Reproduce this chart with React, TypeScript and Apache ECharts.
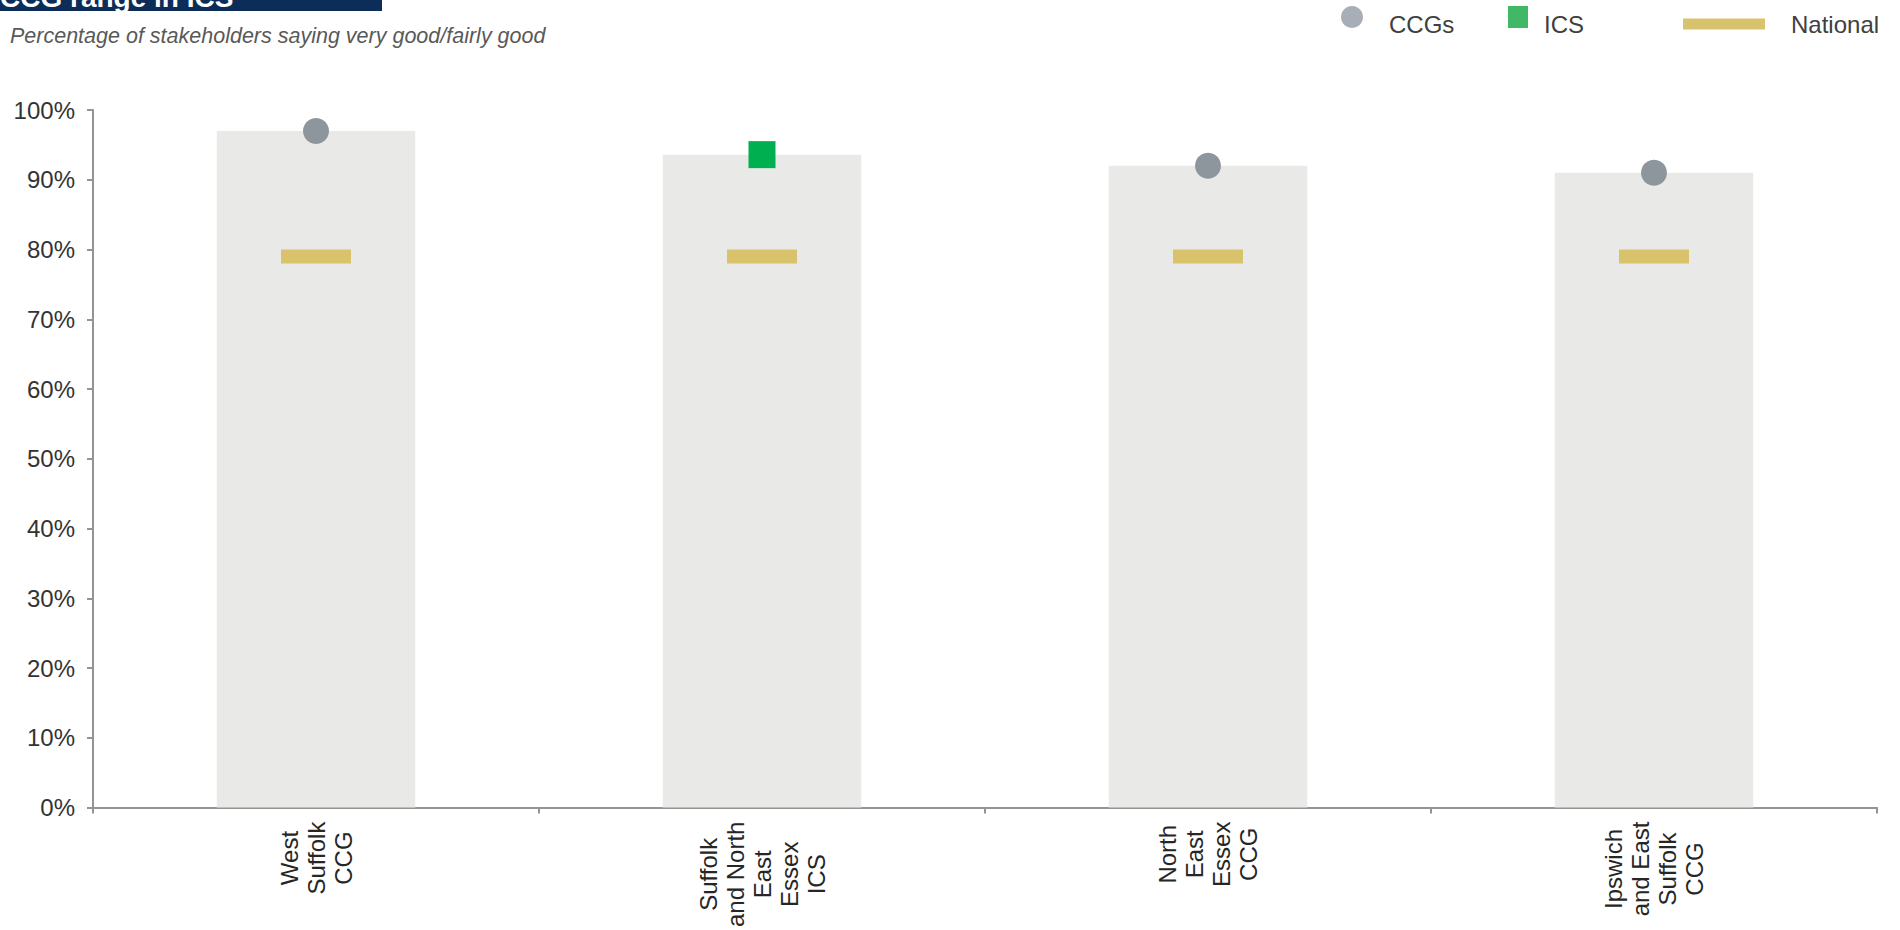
import React, { useEffect, useRef } from "react";
import * as echarts from "echarts";

const categories = [
  "West\nSuffolk\nCCG",
  "Suffolk\nand North\nEast\nEssex\nICS",
  "North\nEast\nEssex\nCCG",
  "Ipswich\nand East\nSuffolk\nCCG",
];
const rangeValues = [97, 93.6, 92, 91];
const ccgValues = [97, null, 92, 91];
const icsValues = [null, 93.6, null, null];
const nationalValues = [79, 79, 79, 79];
const yTicks = [0, 10, 20, 30, 40, 50, 60, 70, 80, 90, 100];

const FONT = "'Liberation Sans', Arial, Helvetica, sans-serif";

export default function App() {
  const ref = useRef<HTMLDivElement>(null);
  useEffect(() => {
    if (!ref.current) return;
    const chart = echarts.init(ref.current, null, { renderer: "svg" });
    const legendText = (padTop: number, padLeft: number) => ({
      fontSize: 24,
      fontFamily: FONT,
      color: "#404040",
      rich: {
        t: {
          fontSize: 24,
          fontFamily: FONT,
          color: "#404040",
          padding: [padTop, 0, 0, padLeft],
        },
      },
    });
    const fmt = (n: string) => `{t|${n}}`;
    chart.setOption({
      animation: false,
      backgroundColor: "#ffffff",
      textStyle: { fontFamily: FONT },
      graphic: [
        {
          type: "rect",
          left: 0,
          top: 0,
          shape: { x: 0, y: 0, width: 382, height: 11 },
          style: { fill: "#0b2d58" },
          z: 10,
        },
        {
          type: "text",
          x: 0,
          y: -3,
          z: 11,
          style: {
            text: "CCG range in ICS",
            fill: "#ffffff",
            font: `bold 28px ${FONT}`,
            verticalAlign: "middle",
            align: "left",
          },
        },
        {
          type: "text",
          x: 10,
          y: 36,
          style: {
            text: "Percentage of stakeholders saying very good/fairly good",
            fill: "#595959",
            font: `italic 21.5px ${FONT}`,
            verticalAlign: "middle",
            align: "left",
          },
        },
      ],
      legend: [
        {
          data: ["CCGs"],
          left: 1341,
          top: 6,
          padding: 0,
          icon: "circle",
          itemWidth: 22,
          itemHeight: 22,
          selectedMode: false,
          formatter: fmt,
          itemStyle: { color: "#a7aeb6" },
          textStyle: legendText(14, 21),
        },
        {
          data: ["ICS"],
          left: 1508,
          top: 6,
          padding: 0,
          icon: "rect",
          itemWidth: 20,
          itemHeight: 22,
          selectedMode: false,
          formatter: fmt,
          itemStyle: { color: "#40b866" },
          textStyle: legendText(14, 11),
        },
        {
          data: ["National"],
          left: 1683,
          top: 12,
          padding: 0,
          icon: "rect",
          itemWidth: 82,
          itemHeight: 11,
          selectedMode: false,
          formatter: fmt,
          itemStyle: { color: "#d9c26c" },
          textStyle: legendText(0, 21),
        },
      ],
      grid: { left: 93, right: 23, top: 110, bottom: 120, containLabel: false },
      xAxis: {
        type: "category",
        data: categories,
        boundaryGap: true,
        axisLine: { show: true, lineStyle: { color: "#949494", width: 2 } },
        axisTick: { show: true, length: 6, interval: 0, lineStyle: { color: "#949494", width: 2 } },
        axisLabel: {
          interval: 0,
          rotate: 90,
          margin: 14,
          formatter: (v: string) =>
            v
              .split("\n")
              .map((l) => `{c|${l}}`)
              .join("\n"),
          rich: {
            c: {
              align: "center",
              fontSize: 24,
              lineHeight: 27,
              color: "#262626",
              fontFamily: FONT,
            },
          },
        },
        splitLine: { show: false },
      },
      yAxis: {
        type: "value",
        min: yTicks[0],
        max: yTicks[yTicks.length - 1],
        interval: 10,
        axisLine: { show: true, lineStyle: { color: "#949494", width: 2 } },
        axisTick: { show: true, length: 6, lineStyle: { color: "#949494", width: 2 } },
        axisLabel: {
          margin: 18,
          formatter: "{value}%",
          fontSize: 24,
          color: "#333333",
          fontFamily: FONT,
        },
        splitLine: { show: false },
      },
      series: [
        {
          name: "Range",
          type: "bar",
          data: rangeValues,
          barWidth: "44.5%",
          itemStyle: { color: "#e9e9e7" },
          silent: true,
        },
        {
          name: "National",
          type: "scatter",
          data: nationalValues,
          symbol: "rect",
          symbolSize: [70, 14],
          itemStyle: { color: "#d9c26c", opacity: 1 },
        },
        {
          name: "CCGs",
          type: "scatter",
          data: ccgValues,
          symbol: "circle",
          symbolSize: 26,
          itemStyle: { color: "#8e969d", opacity: 1 },
        },
        {
          name: "ICS",
          type: "scatter",
          data: icsValues,
          symbol: "rect",
          symbolSize: 27,
          itemStyle: { color: "#00b050", opacity: 1 },
        },
      ],
    });
    return () => chart.dispose();
  }, []);
  return (
    <div
      ref={ref}
      style={{ position: "absolute", left: 0, top: 0, width: 1900, height: 930 }}
    />
  );
}
